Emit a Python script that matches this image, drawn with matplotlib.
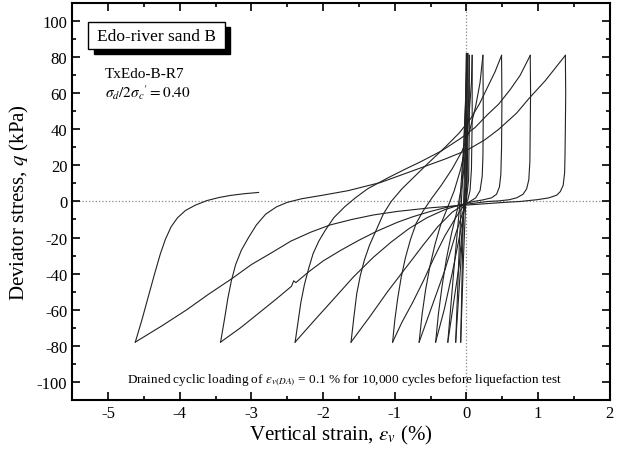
import matplotlib
matplotlib.use("Agg")
import matplotlib.pyplot as plt
from matplotlib.patches import Rectangle
from matplotlib.ticker import MultipleLocator

plt.rcParams['font.family'] = ['Liberation Serif', 'DejaVu Serif']
plt.rcParams['mathtext.fontset'] = 'stix'
plt.rcParams['axes.unicode_minus'] = False

# Stress-strain record, one list pair per half cycle (in test order)
start_strain = [0.0, 0.0, 0.01]
start_q = [0, 40, 82]

u10_strain = [0.01, 0.0, -0.04, -0.08]
u10_q = [82, 10, -30, -78]
r10_strain = [-0.08, -0.05, -0.02, 0.0]
r10_q = [-78, -20, 30, 82]

u9_strain = [0.0, -0.02, -0.08, -0.15]
u9_q = [82, 10, -35, -78]
r9_strain = [-0.15, -0.1, -0.04, 0.01]
r9_q = [-78, -25, 25, 82]

u8_strain = [0.01, -0.01, -0.1, -0.26]
u8_q = [82, 8, -35, -78]
r8_strain = [-0.26, -0.18, -0.1, -0.04, 0.02]
r8_q = [-78, -40, -5, 30, 82]

u7_strain = [0.02, 0.02, 0.01, -0.03, -0.1, -0.2, -0.31, -0.43]
u7_q = [82, 40, 10, -5, -20, -40, -60, -78]
r7_strain = [-0.43, -0.39, -0.34, -0.28, -0.21, -0.13, -0.06, 0.0, 0.03, 0.04]
r7_q = [-78, -62, -47, -32, -18, -5, 10, 30, 55, 81]

u6_strain = [0.04, 0.04, 0.03, 0.0, -0.05, -0.15, -0.3, -0.48, -0.66]
u6_q = [81, 40, 12, 1, -6, -18, -38, -58, -78]
r6_strain = [-0.66, -0.62, -0.57, -0.51, -0.44, -0.36, -0.27, -0.17, -0.08, 0.0, 0.04, 0.07, 0.08]
r6_q = [-78, -63, -49, -36, -24, -13, -4, 6, 18, 33, 50, 66, 81]

u5_strain = [0.08, 0.08, 0.07, 0.05, 0.02, -0.05, -0.15, -0.3, -0.45, -0.6, -0.75, -0.9, -1.03]
u5_q = [81, 45, 18, 6, 1, -3, -9, -19, -31, -44, -56, -67, -78]
r5_strain = [-1.03, -1.0, -0.96, -0.91, -0.85, -0.78, -0.7, -0.6, -0.48, -0.35, -0.2, -0.06,
             0.05, 0.13, 0.19, 0.23]
r5_q = [-78, -66, -54, -42, -31, -21, -12, -5, 2, 9, 18, 28, 40, 53, 66, 81]

u4_strain = [0.23, 0.235, 0.23, 0.22, 0.19, 0.13, 0.05, -0.05, -0.2, -0.4, -0.6, -0.85, -1.1,
             -1.35, -1.61]
u4_q = [81, 50, 25, 14, 6, 2, 0, -2, -6, -14, -24, -37, -50, -64, -78]
r4_strain = [-1.61, -1.57, -1.53, -1.48, -1.42, -1.35, -1.26, -1.16, -1.05, -0.9, -0.72, -0.54,
             -0.3, -0.1, 0.06, 0.18, 0.29, 0.4, 0.49]
r4_q = [-78, -64, -51, -41, -32, -24, -16, -7, 0, 7, 14, 21, 30, 38, 46, 54, 63, 72, 81]

u3_strain = [0.49, 0.495, 0.49, 0.48, 0.46, 0.42, 0.35, 0.22, 0.1, -0.1, -0.3, -0.55, -0.8,
             -1.05, -1.3, -1.58, -1.85, -2.1, -2.39]
u3_q = [81, 55, 30, 15, 8, 4, 2, 0.8, 0, -2, -4.5, -9, -15, -22.5, -31, -42, -54, -65, -78]
r3_strain = [-2.39, -2.35, -2.31, -2.26, -2.2, -2.14, -2.06, -1.97, -1.85, -1.7, -1.55, -1.38,
             -1.1, -0.85, -0.64, -0.35, -0.08, 0.12, 0.29, 0.45, 0.61, 0.75, 0.89]
r3_q = [-78, -67, -56, -46, -37, -29, -22, -16, -9, -3, 2, 7, 13, 18, 22, 28, 35, 41, 48, 54,
        62, 70, 81]

u2_strain = [0.89, 0.895, 0.89, 0.885, 0.87, 0.84, 0.79, 0.7, 0.6, 0.45, 0.3, 0.0, -0.25, -0.5,
             -0.75, -0.96, -1.25, -1.5, -1.75, -2.0, -2.2, -2.38, -2.41, -2.44, -2.65, -2.9,
             -3.15, -3.43]
u2_q = [81, 60, 40, 22, 12, 7, 4, 2, 1, 0.3, 0, -1.5, -3, -5.5, -8.5, -11.5, -16.5, -21.5, -27,
        -33, -39, -45, -44, -47, -54, -62, -70, -78]
r2_strain = [-3.43, -3.4, -3.37, -3.33, -3.28, -3.22, -3.14, -3.04, -2.93, -2.8, -2.65, -2.5,
             -2.3, -2.0, -1.65, -1.2, -0.68, -0.3, 0.01, 0.25, 0.45, 0.7, 0.87, 1.1, 1.38]
r2_q = [-78, -71, -64, -54, -44, -35, -27, -20, -13, -7, -3, -0.5, 1.5, 3.5, 6, 10.5, 18, 23.5,
        28.5, 34, 40, 49, 57, 67, 81]

u1_strain = [1.38, 1.385, 1.38, 1.375, 1.37, 1.35, 1.31, 1.26, 1.15, 0.99, 0.75, 0.53, 0.25, 0.0,
             -0.5, -0.96, -1.3, -1.6, -1.9, -2.17, -2.45, -2.7, -3.0, -3.28, -3.6, -3.9, -4.25,
             -4.62]
u1_q = [81, 60, 40, 25, 16, 9, 5.5, 3.5, 2, 1, 0, -0.5, -1.3, -2, -3.5, -5.5, -7.5, -10, -13,
        -17, -22, -28, -35, -43, -51.5, -60, -69, -78]
r1_strain = [-4.62, -4.53, -4.44, -4.35, -4.27, -4.2, -4.12, -4.03, -3.92, -3.78, -3.62, -3.45,
             -3.3, -3.1, -2.9]
r1_q = [-78, -66, -53, -40, -29, -21, -14, -9, -5, -2, 0.5, 2.2, 3.3, 4.3, 5]

branches = [
    (start_strain, start_q), (u10_strain, u10_q), (r10_strain, r10_q),
    (u9_strain, u9_q), (r9_strain, r9_q), (u8_strain, u8_q), (r8_strain, r8_q),
    (u7_strain, u7_q), (r7_strain, r7_q), (u6_strain, u6_q), (r6_strain, r6_q),
    (u5_strain, u5_q), (r5_strain, r5_q), (u4_strain, u4_q), (r4_strain, r4_q),
    (u3_strain, u3_q), (r3_strain, r3_q), (u2_strain, u2_q), (r2_strain, r2_q),
    (u1_strain, u1_q), (r1_strain, r1_q),
]

fig = plt.figure(figsize=(6.28, 4.56), dpi=100)
ax = fig.add_axes([0.115, 0.121, 0.856, 0.870])

# Zero reference lines
ax.axhline(0, color='#888888', linestyle=':', linewidth=0.9, zorder=1)
ax.axvline(0, color='#888888', linestyle=':', linewidth=0.9, zorder=1)

for strain, q in branches:
    ax.plot(strain, q, color='#222222', linewidth=0.8, zorder=2)

ax.set_xlim(-5.5, 2)
ax.set_ylim(-110, 110)
ax.xaxis.set_major_locator(MultipleLocator(1))
ax.xaxis.set_minor_locator(MultipleLocator(0.5))
ax.yaxis.set_major_locator(MultipleLocator(20))
ax.yaxis.set_minor_locator(MultipleLocator(10))
ax.tick_params(which='both', direction='in', top=True, right=True, labelsize=12, width=1.2)
ax.tick_params(which='major', length=6)
ax.tick_params(which='minor', length=3)
for spine in ax.spines.values():
    spine.set_linewidth(1.5)

ax.set_xlabel(r"Vertical strain, $\varepsilon_v$ (%)", fontsize=15, labelpad=2)
ax.set_ylabel(r"Deviator stress, $q$ (kPa)", fontsize=15, labelpad=4)

# Title box with a drop shadow
ax.add_patch(Rectangle((0.040, 0.871), 0.254, 0.068, transform=ax.transAxes,
                       facecolor='black', edgecolor='black', zorder=4))
ax.add_patch(Rectangle((0.030, 0.884), 0.254, 0.068, transform=ax.transAxes,
                       facecolor='white', edgecolor='black', linewidth=1.0, zorder=5))
ax.text(0.157, 0.918, "Edo-river sand B", transform=ax.transAxes, fontsize=12.5,
        ha='center', va='center', zorder=6)

ax.text(0.061, 0.823, "TxEdo-B-R7", transform=ax.transAxes, fontsize=11,
        ha='left', va='center')
ax.text(0.061, 0.776, r"$\sigma_d/2\sigma_c{}' = 0.40$", transform=ax.transAxes,
        fontsize=11, ha='left', va='center')

ax.text(0.507, 0.053,
        r"Drained cyclic loading of $\varepsilon_{v(DA)}$ = 0.1 % for 10,000 cycles before liquefaction test",
        transform=ax.transAxes, fontsize=9.5, ha='center', va='center')

fig.savefig("out.png", dpi=100)
